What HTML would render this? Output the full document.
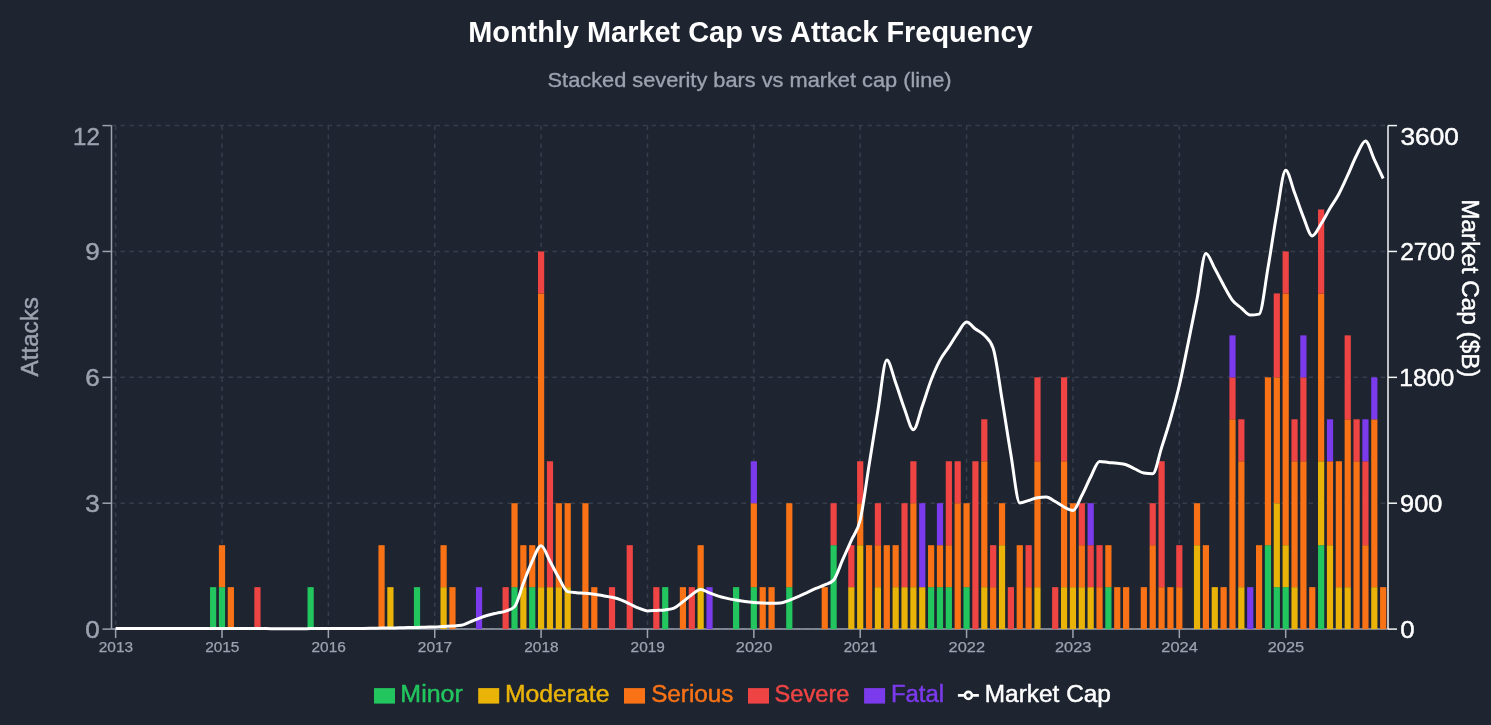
<!DOCTYPE html>
<html lang="en"><head><meta charset="utf-8"><title>Monthly Market Cap vs Attack Frequency</title>
<style>html,body{margin:0;padding:0;background:#1e2531;}body{width:1491px;height:725px;overflow:hidden;font-family:"Liberation Sans",sans-serif;}svg{display:block;will-change:transform;}text{font-family:"Liberation Sans",sans-serif;}</style></head><body>
<svg width="1491" height="725" viewBox="0 0 1491 725">
<rect width="1491" height="725" fill="#1e2531"/>
<g stroke="#363d4b" stroke-width="1.5" stroke-dasharray="4.5 4.5" fill="none">
<line x1="111.5" x2="1388.0" y1="629.10" y2="629.10"/>
<line x1="111.5" x2="1388.0" y1="503.22" y2="503.22"/>
<line x1="111.5" x2="1388.0" y1="377.34" y2="377.34"/>
<line x1="111.5" x2="1388.0" y1="251.46" y2="251.46"/>
<line x1="111.5" x2="1388.0" y1="125.58" y2="125.58"/>
<line x1="115.63" x2="115.63" y1="125.6" y2="629.1"/>
<line x1="222.00" x2="222.00" y1="125.6" y2="629.1"/>
<line x1="328.37" x2="328.37" y1="125.6" y2="629.1"/>
<line x1="434.73" x2="434.73" y1="125.6" y2="629.1"/>
<line x1="541.10" x2="541.10" y1="125.6" y2="629.1"/>
<line x1="647.47" x2="647.47" y1="125.6" y2="629.1"/>
<line x1="753.84" x2="753.84" y1="125.6" y2="629.1"/>
<line x1="860.21" x2="860.21" y1="125.6" y2="629.1"/>
<line x1="966.57" x2="966.57" y1="125.6" y2="629.1"/>
<line x1="1072.94" x2="1072.94" y1="125.6" y2="629.1"/>
<line x1="1179.31" x2="1179.31" y1="125.6" y2="629.1"/>
<line x1="1285.68" x2="1285.68" y1="125.6" y2="629.1"/>
</g>
<g stroke="#9ca3af" stroke-width="1.5" fill="none">
<line x1="111.5" x2="1388.0" y1="629.1" y2="629.1"/>
<line x1="115.63" x2="115.63" y1="629.1" y2="638.1"/>
<line x1="222.00" x2="222.00" y1="629.1" y2="638.1"/>
<line x1="328.37" x2="328.37" y1="629.1" y2="638.1"/>
<line x1="434.73" x2="434.73" y1="629.1" y2="638.1"/>
<line x1="541.10" x2="541.10" y1="629.1" y2="638.1"/>
<line x1="647.47" x2="647.47" y1="629.1" y2="638.1"/>
<line x1="753.84" x2="753.84" y1="629.1" y2="638.1"/>
<line x1="860.21" x2="860.21" y1="629.1" y2="638.1"/>
<line x1="966.57" x2="966.57" y1="629.1" y2="638.1"/>
<line x1="1072.94" x2="1072.94" y1="629.1" y2="638.1"/>
<line x1="1179.31" x2="1179.31" y1="629.1" y2="638.1"/>
<line x1="1285.68" x2="1285.68" y1="629.1" y2="638.1"/>
<line x1="111.5" x2="111.5" y1="125.6" y2="629.1"/>
<line x1="102.5" x2="111.5" y1="629.10" y2="629.10"/>
<line x1="102.5" x2="111.5" y1="503.22" y2="503.22"/>
<line x1="102.5" x2="111.5" y1="377.34" y2="377.34"/>
<line x1="102.5" x2="111.5" y1="251.46" y2="251.46"/>
<line x1="102.5" x2="111.5" y1="125.58" y2="125.58"/>
</g>
<g stroke="#f3f4f6" stroke-width="1.5" fill="none">
<line x1="1388.0" x2="1388.0" y1="125.6" y2="629.1"/>
<line x1="1388.0" x2="1397.0" y1="629.10" y2="629.10"/>
<line x1="1388.0" x2="1397.0" y1="503.22" y2="503.22"/>
<line x1="1388.0" x2="1397.0" y1="377.34" y2="377.34"/>
<line x1="1388.0" x2="1397.0" y1="251.46" y2="251.46"/>
<line x1="1388.0" x2="1397.0" y1="125.58" y2="125.58"/>
</g>
<g shape-rendering="auto">
<rect x="210.03" y="587.14" width="6.2" height="41.96" fill="#22c55e"/>
<rect x="218.90" y="587.14" width="6.2" height="41.96" fill="#22c55e"/>
<rect x="218.90" y="545.18" width="6.2" height="41.96" fill="#f97316"/>
<rect x="227.76" y="587.14" width="6.2" height="41.96" fill="#f97316"/>
<rect x="254.35" y="587.14" width="6.2" height="41.96" fill="#ef4444"/>
<rect x="307.54" y="587.14" width="6.2" height="41.96" fill="#22c55e"/>
<rect x="378.45" y="545.18" width="6.2" height="83.92" fill="#f97316"/>
<rect x="387.31" y="587.14" width="6.2" height="41.96" fill="#eab308"/>
<rect x="413.91" y="587.14" width="6.2" height="41.96" fill="#22c55e"/>
<rect x="440.50" y="587.14" width="6.2" height="41.96" fill="#eab308"/>
<rect x="440.50" y="545.18" width="6.2" height="41.96" fill="#f97316"/>
<rect x="449.36" y="587.14" width="6.2" height="41.96" fill="#f97316"/>
<rect x="475.95" y="587.14" width="6.2" height="41.96" fill="#7c3aed"/>
<rect x="502.55" y="587.14" width="6.2" height="41.96" fill="#ef4444"/>
<rect x="511.41" y="587.14" width="6.2" height="41.96" fill="#22c55e"/>
<rect x="511.41" y="503.22" width="6.2" height="83.92" fill="#f97316"/>
<rect x="520.27" y="587.14" width="6.2" height="41.96" fill="#eab308"/>
<rect x="520.27" y="545.18" width="6.2" height="41.96" fill="#f97316"/>
<rect x="529.14" y="587.14" width="6.2" height="41.96" fill="#22c55e"/>
<rect x="529.14" y="545.18" width="6.2" height="41.96" fill="#f97316"/>
<rect x="538.00" y="587.14" width="6.2" height="41.96" fill="#eab308"/>
<rect x="538.00" y="293.42" width="6.2" height="293.72" fill="#f97316"/>
<rect x="538.00" y="251.46" width="6.2" height="41.96" fill="#ef4444"/>
<rect x="546.87" y="587.14" width="6.2" height="41.96" fill="#eab308"/>
<rect x="546.87" y="461.26" width="6.2" height="125.88" fill="#ef4444"/>
<rect x="555.73" y="587.14" width="6.2" height="41.96" fill="#eab308"/>
<rect x="555.73" y="503.22" width="6.2" height="83.92" fill="#f97316"/>
<rect x="564.59" y="587.14" width="6.2" height="41.96" fill="#eab308"/>
<rect x="564.59" y="503.22" width="6.2" height="83.92" fill="#f97316"/>
<rect x="582.32" y="503.22" width="6.2" height="125.88" fill="#f97316"/>
<rect x="591.19" y="587.14" width="6.2" height="41.96" fill="#f97316"/>
<rect x="608.91" y="587.14" width="6.2" height="41.96" fill="#ef4444"/>
<rect x="626.64" y="545.18" width="6.2" height="83.92" fill="#ef4444"/>
<rect x="653.23" y="587.14" width="6.2" height="41.96" fill="#ef4444"/>
<rect x="662.10" y="587.14" width="6.2" height="41.96" fill="#22c55e"/>
<rect x="679.83" y="587.14" width="6.2" height="41.96" fill="#f97316"/>
<rect x="688.69" y="587.14" width="6.2" height="41.96" fill="#ef4444"/>
<rect x="697.55" y="587.14" width="6.2" height="41.96" fill="#eab308"/>
<rect x="697.55" y="545.18" width="6.2" height="41.96" fill="#f97316"/>
<rect x="706.42" y="587.14" width="6.2" height="41.96" fill="#7c3aed"/>
<rect x="733.01" y="587.14" width="6.2" height="41.96" fill="#22c55e"/>
<rect x="750.74" y="587.14" width="6.2" height="41.96" fill="#22c55e"/>
<rect x="750.74" y="503.22" width="6.2" height="83.92" fill="#f97316"/>
<rect x="750.74" y="461.26" width="6.2" height="41.96" fill="#7c3aed"/>
<rect x="759.60" y="587.14" width="6.2" height="41.96" fill="#f97316"/>
<rect x="768.47" y="587.14" width="6.2" height="41.96" fill="#f97316"/>
<rect x="786.19" y="587.14" width="6.2" height="41.96" fill="#22c55e"/>
<rect x="786.19" y="503.22" width="6.2" height="83.92" fill="#f97316"/>
<rect x="821.65" y="587.14" width="6.2" height="41.96" fill="#f97316"/>
<rect x="830.51" y="545.18" width="6.2" height="83.92" fill="#22c55e"/>
<rect x="830.51" y="503.22" width="6.2" height="41.96" fill="#ef4444"/>
<rect x="848.24" y="587.14" width="6.2" height="41.96" fill="#eab308"/>
<rect x="848.24" y="545.18" width="6.2" height="41.96" fill="#ef4444"/>
<rect x="857.11" y="545.18" width="6.2" height="83.92" fill="#eab308"/>
<rect x="857.11" y="503.22" width="6.2" height="41.96" fill="#f97316"/>
<rect x="857.11" y="461.26" width="6.2" height="41.96" fill="#ef4444"/>
<rect x="865.97" y="545.18" width="6.2" height="83.92" fill="#f97316"/>
<rect x="874.83" y="587.14" width="6.2" height="41.96" fill="#eab308"/>
<rect x="874.83" y="545.18" width="6.2" height="41.96" fill="#f97316"/>
<rect x="874.83" y="503.22" width="6.2" height="41.96" fill="#ef4444"/>
<rect x="883.70" y="545.18" width="6.2" height="83.92" fill="#f97316"/>
<rect x="892.56" y="587.14" width="6.2" height="41.96" fill="#eab308"/>
<rect x="892.56" y="545.18" width="6.2" height="41.96" fill="#f97316"/>
<rect x="901.43" y="587.14" width="6.2" height="41.96" fill="#eab308"/>
<rect x="901.43" y="503.22" width="6.2" height="83.92" fill="#ef4444"/>
<rect x="910.29" y="587.14" width="6.2" height="41.96" fill="#eab308"/>
<rect x="910.29" y="503.22" width="6.2" height="83.92" fill="#f97316"/>
<rect x="910.29" y="461.26" width="6.2" height="41.96" fill="#ef4444"/>
<rect x="919.15" y="587.14" width="6.2" height="41.96" fill="#eab308"/>
<rect x="919.15" y="503.22" width="6.2" height="83.92" fill="#7c3aed"/>
<rect x="928.02" y="587.14" width="6.2" height="41.96" fill="#22c55e"/>
<rect x="928.02" y="545.18" width="6.2" height="41.96" fill="#f97316"/>
<rect x="936.88" y="587.14" width="6.2" height="41.96" fill="#22c55e"/>
<rect x="936.88" y="545.18" width="6.2" height="41.96" fill="#f97316"/>
<rect x="936.88" y="503.22" width="6.2" height="41.96" fill="#7c3aed"/>
<rect x="945.75" y="587.14" width="6.2" height="41.96" fill="#22c55e"/>
<rect x="945.75" y="545.18" width="6.2" height="41.96" fill="#f97316"/>
<rect x="945.75" y="461.26" width="6.2" height="83.92" fill="#ef4444"/>
<rect x="954.61" y="503.22" width="6.2" height="125.88" fill="#f97316"/>
<rect x="954.61" y="461.26" width="6.2" height="41.96" fill="#ef4444"/>
<rect x="963.47" y="587.14" width="6.2" height="41.96" fill="#22c55e"/>
<rect x="963.47" y="503.22" width="6.2" height="83.92" fill="#f97316"/>
<rect x="972.34" y="461.26" width="6.2" height="167.84" fill="#ef4444"/>
<rect x="981.20" y="587.14" width="6.2" height="41.96" fill="#eab308"/>
<rect x="981.20" y="461.26" width="6.2" height="125.88" fill="#f97316"/>
<rect x="981.20" y="419.30" width="6.2" height="41.96" fill="#ef4444"/>
<rect x="990.07" y="587.14" width="6.2" height="41.96" fill="#f97316"/>
<rect x="990.07" y="545.18" width="6.2" height="41.96" fill="#ef4444"/>
<rect x="998.93" y="545.18" width="6.2" height="83.92" fill="#eab308"/>
<rect x="998.93" y="503.22" width="6.2" height="41.96" fill="#f97316"/>
<rect x="1007.79" y="587.14" width="6.2" height="41.96" fill="#ef4444"/>
<rect x="1016.66" y="545.18" width="6.2" height="83.92" fill="#f97316"/>
<rect x="1025.52" y="587.14" width="6.2" height="41.96" fill="#f97316"/>
<rect x="1025.52" y="545.18" width="6.2" height="41.96" fill="#ef4444"/>
<rect x="1034.39" y="587.14" width="6.2" height="41.96" fill="#eab308"/>
<rect x="1034.39" y="461.26" width="6.2" height="125.88" fill="#f97316"/>
<rect x="1034.39" y="377.34" width="6.2" height="83.92" fill="#ef4444"/>
<rect x="1052.11" y="587.14" width="6.2" height="41.96" fill="#ef4444"/>
<rect x="1060.98" y="587.14" width="6.2" height="41.96" fill="#eab308"/>
<rect x="1060.98" y="461.26" width="6.2" height="125.88" fill="#f97316"/>
<rect x="1060.98" y="377.34" width="6.2" height="83.92" fill="#ef4444"/>
<rect x="1069.84" y="587.14" width="6.2" height="41.96" fill="#eab308"/>
<rect x="1069.84" y="503.22" width="6.2" height="83.92" fill="#f97316"/>
<rect x="1078.71" y="587.14" width="6.2" height="41.96" fill="#eab308"/>
<rect x="1078.71" y="545.18" width="6.2" height="41.96" fill="#f97316"/>
<rect x="1078.71" y="503.22" width="6.2" height="41.96" fill="#ef4444"/>
<rect x="1087.57" y="587.14" width="6.2" height="41.96" fill="#eab308"/>
<rect x="1087.57" y="545.18" width="6.2" height="41.96" fill="#ef4444"/>
<rect x="1087.57" y="503.22" width="6.2" height="41.96" fill="#7c3aed"/>
<rect x="1096.43" y="587.14" width="6.2" height="41.96" fill="#f97316"/>
<rect x="1096.43" y="545.18" width="6.2" height="41.96" fill="#ef4444"/>
<rect x="1105.30" y="587.14" width="6.2" height="41.96" fill="#22c55e"/>
<rect x="1105.30" y="545.18" width="6.2" height="41.96" fill="#f97316"/>
<rect x="1114.16" y="587.14" width="6.2" height="41.96" fill="#f97316"/>
<rect x="1123.03" y="587.14" width="6.2" height="41.96" fill="#f97316"/>
<rect x="1140.75" y="587.14" width="6.2" height="41.96" fill="#f97316"/>
<rect x="1149.62" y="545.18" width="6.2" height="83.92" fill="#f97316"/>
<rect x="1149.62" y="503.22" width="6.2" height="41.96" fill="#ef4444"/>
<rect x="1158.48" y="587.14" width="6.2" height="41.96" fill="#f97316"/>
<rect x="1158.48" y="461.26" width="6.2" height="125.88" fill="#ef4444"/>
<rect x="1167.35" y="587.14" width="6.2" height="41.96" fill="#f97316"/>
<rect x="1176.21" y="587.14" width="6.2" height="41.96" fill="#f97316"/>
<rect x="1176.21" y="545.18" width="6.2" height="41.96" fill="#ef4444"/>
<rect x="1193.94" y="545.18" width="6.2" height="83.92" fill="#eab308"/>
<rect x="1193.94" y="503.22" width="6.2" height="41.96" fill="#f97316"/>
<rect x="1202.80" y="545.18" width="6.2" height="83.92" fill="#f97316"/>
<rect x="1211.67" y="587.14" width="6.2" height="41.96" fill="#eab308"/>
<rect x="1220.53" y="587.14" width="6.2" height="41.96" fill="#f97316"/>
<rect x="1229.39" y="419.30" width="6.2" height="209.80" fill="#f97316"/>
<rect x="1229.39" y="377.34" width="6.2" height="41.96" fill="#ef4444"/>
<rect x="1229.39" y="335.38" width="6.2" height="41.96" fill="#7c3aed"/>
<rect x="1238.26" y="587.14" width="6.2" height="41.96" fill="#eab308"/>
<rect x="1238.26" y="461.26" width="6.2" height="125.88" fill="#f97316"/>
<rect x="1238.26" y="419.30" width="6.2" height="41.96" fill="#ef4444"/>
<rect x="1247.12" y="587.14" width="6.2" height="41.96" fill="#7c3aed"/>
<rect x="1255.99" y="545.18" width="6.2" height="83.92" fill="#f97316"/>
<rect x="1264.85" y="545.18" width="6.2" height="83.92" fill="#22c55e"/>
<rect x="1264.85" y="377.34" width="6.2" height="167.84" fill="#f97316"/>
<rect x="1273.71" y="587.14" width="6.2" height="41.96" fill="#22c55e"/>
<rect x="1273.71" y="503.22" width="6.2" height="83.92" fill="#eab308"/>
<rect x="1273.71" y="377.34" width="6.2" height="125.88" fill="#f97316"/>
<rect x="1273.71" y="293.42" width="6.2" height="83.92" fill="#ef4444"/>
<rect x="1282.58" y="587.14" width="6.2" height="41.96" fill="#22c55e"/>
<rect x="1282.58" y="545.18" width="6.2" height="41.96" fill="#eab308"/>
<rect x="1282.58" y="293.42" width="6.2" height="251.76" fill="#f97316"/>
<rect x="1282.58" y="251.46" width="6.2" height="41.96" fill="#ef4444"/>
<rect x="1291.44" y="587.14" width="6.2" height="41.96" fill="#eab308"/>
<rect x="1291.44" y="461.26" width="6.2" height="125.88" fill="#f97316"/>
<rect x="1291.44" y="419.30" width="6.2" height="41.96" fill="#ef4444"/>
<rect x="1300.31" y="461.26" width="6.2" height="167.84" fill="#f97316"/>
<rect x="1300.31" y="377.34" width="6.2" height="83.92" fill="#ef4444"/>
<rect x="1300.31" y="335.38" width="6.2" height="41.96" fill="#7c3aed"/>
<rect x="1309.17" y="587.14" width="6.2" height="41.96" fill="#f97316"/>
<rect x="1318.03" y="545.18" width="6.2" height="83.92" fill="#22c55e"/>
<rect x="1318.03" y="461.26" width="6.2" height="83.92" fill="#eab308"/>
<rect x="1318.03" y="293.42" width="6.2" height="167.84" fill="#f97316"/>
<rect x="1318.03" y="209.50" width="6.2" height="83.92" fill="#ef4444"/>
<rect x="1326.90" y="545.18" width="6.2" height="83.92" fill="#eab308"/>
<rect x="1326.90" y="461.26" width="6.2" height="83.92" fill="#f97316"/>
<rect x="1326.90" y="419.30" width="6.2" height="41.96" fill="#7c3aed"/>
<rect x="1335.76" y="587.14" width="6.2" height="41.96" fill="#eab308"/>
<rect x="1335.76" y="461.26" width="6.2" height="125.88" fill="#f97316"/>
<rect x="1344.63" y="587.14" width="6.2" height="41.96" fill="#eab308"/>
<rect x="1344.63" y="419.30" width="6.2" height="167.84" fill="#f97316"/>
<rect x="1344.63" y="335.38" width="6.2" height="83.92" fill="#ef4444"/>
<rect x="1353.49" y="461.26" width="6.2" height="167.84" fill="#f97316"/>
<rect x="1353.49" y="419.30" width="6.2" height="41.96" fill="#ef4444"/>
<rect x="1362.35" y="545.18" width="6.2" height="83.92" fill="#f97316"/>
<rect x="1362.35" y="461.26" width="6.2" height="83.92" fill="#ef4444"/>
<rect x="1362.35" y="419.30" width="6.2" height="41.96" fill="#7c3aed"/>
<rect x="1371.22" y="587.14" width="6.2" height="41.96" fill="#eab308"/>
<rect x="1371.22" y="419.30" width="6.2" height="167.84" fill="#f97316"/>
<rect x="1371.22" y="377.34" width="6.2" height="41.96" fill="#7c3aed"/>
<rect x="1380.08" y="587.14" width="6.2" height="41.96" fill="#f97316"/>
</g>
<path d="M115.63,628.40C118.58,628.40,121.54,628.40,124.49,628.40C127.45,628.40,130.40,628.40,133.36,628.40C136.31,628.40,139.27,628.40,142.22,628.40C145.18,628.40,148.13,628.40,151.09,628.40C154.04,628.40,157.00,628.40,159.95,628.40C162.90,628.40,165.86,628.40,168.81,628.40C171.77,628.40,174.72,628.40,177.68,628.40C180.63,628.40,183.59,628.40,186.54,628.40C189.50,628.40,192.45,628.40,195.41,628.40C198.36,628.40,201.32,628.40,204.27,628.40C207.22,628.40,210.18,628.42,213.13,628.43C216.09,628.44,219.04,628.45,222.00,628.46C224.95,628.47,227.91,628.48,230.86,628.49C233.82,628.50,236.77,628.51,239.73,628.52C242.68,628.53,245.64,628.54,248.59,628.55C251.54,628.56,254.50,628.57,257.45,628.58C260.41,628.59,263.36,628.60,266.32,628.61C269.27,628.62,272.23,628.63,275.18,628.64C278.14,628.65,281.09,628.66,284.05,628.67C287.00,628.68,289.96,628.70,292.91,628.70C295.86,628.70,298.82,628.68,301.77,628.66C304.73,628.65,307.68,628.64,310.64,628.62C313.59,628.61,316.55,628.60,319.50,628.59C322.46,628.57,325.41,628.56,328.37,628.55C331.32,628.54,334.28,628.53,337.23,628.51C340.18,628.50,343.14,628.49,346.09,628.48C349.05,628.46,352.00,628.45,354.96,628.44C357.91,628.42,360.87,628.42,363.82,628.40C366.78,628.38,369.73,628.30,372.69,628.25C375.64,628.20,378.60,628.15,381.55,628.10C384.50,628.05,387.46,628.00,390.41,627.95C393.37,627.90,396.32,627.86,399.28,627.80C402.23,627.74,405.19,627.67,408.14,627.60C411.10,627.53,414.05,627.48,417.01,627.40C419.96,627.33,422.92,627.23,425.87,627.15C428.82,627.07,431.78,627.02,434.73,626.90C437.69,626.77,440.64,626.55,443.60,626.40C446.55,626.25,449.51,626.18,452.46,626.00C455.42,625.82,458.37,625.77,461.33,625.30C464.28,624.83,467.24,623.07,470.19,621.90C473.14,620.73,476.10,619.40,479.05,618.30C482.01,617.20,484.96,616.17,487.92,615.30C490.87,614.43,493.83,613.80,496.78,613.10C499.74,612.40,502.69,612.17,505.65,611.10C508.60,610.03,511.56,609.63,514.51,606.70C517.46,603.77,520.42,590.88,523.37,583.30C526.33,575.72,529.28,567.45,532.24,561.20C535.19,554.95,538.15,545.80,541.10,545.80C544.06,545.80,547.01,555.87,549.97,561.20C552.92,566.53,555.88,572.73,558.83,577.80C561.78,582.87,564.74,590.87,567.69,591.60C570.65,592.33,573.60,592.42,576.56,592.70C579.51,592.98,582.47,593.05,585.42,593.30C588.38,593.55,591.33,593.80,594.29,594.20C597.24,594.60,600.20,595.18,603.15,595.70C606.10,596.22,609.06,596.62,612.01,597.30C614.97,597.98,617.92,598.68,620.88,599.80C623.83,600.92,626.79,602.62,629.74,604.00C632.70,605.38,635.65,606.95,638.61,608.10C641.56,609.25,644.52,610.90,647.47,610.90C650.42,610.90,653.38,610.57,656.33,610.40C659.29,610.23,662.24,610.23,665.20,609.90C668.15,609.57,671.11,609.30,674.06,608.10C677.02,606.90,679.97,603.83,682.93,601.60C685.88,599.37,688.84,596.72,691.79,594.70C694.74,592.68,697.70,589.50,700.65,589.50C703.61,589.50,706.56,591.80,709.52,592.90C712.47,594.00,715.43,595.18,718.38,596.10C721.34,597.02,724.29,597.73,727.25,598.40C730.20,599.07,733.16,599.57,736.11,600.10C739.06,600.63,742.02,601.18,744.97,601.60C747.93,602.02,750.88,602.35,753.84,602.60C756.79,602.85,759.75,602.98,762.70,603.10C765.66,603.22,768.61,603.30,771.57,603.30C774.52,603.30,777.48,603.23,780.43,603.10C783.38,602.97,786.34,601.37,789.29,600.30C792.25,599.23,795.20,597.98,798.16,596.70C801.11,595.42,804.07,593.98,807.02,592.60C809.98,591.22,812.93,589.70,815.89,588.40C818.84,587.10,821.80,586.18,824.75,584.80C827.70,583.42,830.66,583.23,833.61,580.10C836.57,576.97,839.52,566.83,842.48,560.20C845.43,553.57,848.39,547.00,851.34,540.30C854.30,533.60,857.25,532.52,860.21,520.00C863.16,507.48,866.12,483.48,869.07,465.20C872.02,446.92,874.98,427.82,877.93,410.30C880.89,392.78,883.84,360.10,886.80,360.10C889.75,360.10,892.71,374.65,895.66,382.80C898.62,390.95,901.57,401.18,904.53,409.00C907.48,416.82,910.44,429.70,913.39,429.70C916.34,429.70,919.30,414.48,922.25,406.20C925.21,397.92,928.16,387.68,931.12,380.00C934.07,372.32,937.03,365.62,939.98,360.10C942.94,354.58,945.89,351.40,948.85,346.90C951.80,342.40,954.76,337.23,957.71,333.10C960.66,328.97,963.62,322.10,966.57,322.10C969.53,322.10,972.48,326.80,975.44,329.00C978.39,331.20,981.35,332.08,984.30,335.30C987.26,338.52,990.21,339.63,993.17,348.30C996.12,356.97,999.08,381.60,1002.03,399.30C1004.98,417.00,1007.94,437.23,1010.89,454.50C1013.85,471.77,1016.80,502.90,1019.76,502.90C1022.71,502.90,1025.67,501.35,1028.62,500.50C1031.58,499.65,1034.53,498.27,1037.49,497.80C1040.44,497.33,1043.40,497.10,1046.35,497.10C1049.30,497.10,1052.26,499.85,1055.21,501.50C1058.17,503.15,1061.12,505.48,1064.08,507.00C1067.03,508.52,1069.99,510.60,1072.94,510.60C1075.90,510.60,1078.85,501.10,1081.81,495.50C1084.76,489.90,1087.72,482.68,1090.67,477.00C1093.62,471.32,1096.58,461.40,1099.53,461.40C1102.49,461.40,1105.44,462.08,1108.40,462.40C1111.35,462.72,1114.31,462.90,1117.26,463.30C1120.22,463.70,1123.17,463.85,1126.13,464.80C1129.08,465.75,1132.04,467.63,1134.99,469.00C1137.94,470.37,1140.90,472.47,1143.85,473.00C1146.81,473.53,1149.76,473.80,1152.72,473.80C1155.67,473.80,1158.63,456.73,1161.58,447.60C1164.54,438.47,1167.49,429.35,1170.45,419.00C1173.40,408.65,1176.36,398.15,1179.31,385.50C1182.26,372.85,1185.22,357.52,1188.17,343.10C1191.13,328.68,1194.08,313.95,1197.04,299.00C1199.99,284.05,1202.95,253.40,1205.90,253.40C1208.86,253.40,1211.81,263.30,1214.77,268.60C1217.72,273.90,1220.68,279.92,1223.63,285.20C1226.58,290.48,1229.54,296.48,1232.49,300.30C1235.45,304.12,1238.40,305.65,1241.36,308.10C1244.31,310.55,1247.27,315.00,1250.22,315.00C1253.18,315.00,1256.13,314.70,1259.09,314.10C1262.04,313.50,1265.00,284.77,1267.95,268.00C1270.90,251.23,1273.86,229.78,1276.81,213.50C1279.77,197.22,1282.72,170.30,1285.68,170.30C1288.63,170.30,1291.59,185.00,1294.54,192.80C1297.50,200.60,1300.45,209.92,1303.41,217.10C1306.36,224.28,1309.32,235.90,1312.27,235.90C1315.22,235.90,1318.18,228.40,1321.13,223.80C1324.09,219.20,1327.04,213.27,1330.00,208.30C1332.95,203.33,1335.91,199.52,1338.86,194.00C1341.82,188.48,1344.77,181.65,1347.73,175.20C1350.68,168.75,1353.64,161.00,1356.59,155.30C1359.54,149.60,1362.50,141.00,1365.45,141.00C1368.41,141.00,1371.36,153.45,1374.32,159.70C1377.27,165.95,1380.23,172.22,1383.18,178.50" fill="none" stroke="#ffffff" stroke-width="3" stroke-linejoin="round" stroke-linecap="butt"/>
<text x="750.4" y="42.0" font-size="28.6" fill="#ffffff" font-weight="700" text-anchor="middle" textLength="564.5" lengthAdjust="spacingAndGlyphs">Monthly Market Cap vs Attack Frequency</text>
<text x="749.6" y="86.9" font-size="20.3" fill="#9ca3af" stroke="#9ca3af" stroke-width="0.35" stroke-linejoin="round" text-anchor="middle" textLength="404" lengthAdjust="spacingAndGlyphs">Stacked severity bars vs market cap (line)</text>
<text x="99.8" y="145.1" font-size="24" fill="#9ca3af" stroke="#9ca3af" stroke-width="0.45" stroke-linejoin="round" text-anchor="end">12</text>
<text x="99.8" y="260.1" font-size="24" fill="#9ca3af" stroke="#9ca3af" stroke-width="0.45" stroke-linejoin="round" text-anchor="end" textLength="14.5" lengthAdjust="spacingAndGlyphs">9</text>
<text x="99.8" y="385.95" font-size="24" fill="#9ca3af" stroke="#9ca3af" stroke-width="0.45" stroke-linejoin="round" text-anchor="end" textLength="14.5" lengthAdjust="spacingAndGlyphs">6</text>
<text x="99.8" y="511.8" font-size="24" fill="#9ca3af" stroke="#9ca3af" stroke-width="0.45" stroke-linejoin="round" text-anchor="end" textLength="14.5" lengthAdjust="spacingAndGlyphs">3</text>
<text x="99.8" y="638.2" font-size="24" fill="#9ca3af" stroke="#9ca3af" stroke-width="0.45" stroke-linejoin="round" text-anchor="end" textLength="14.5" lengthAdjust="spacingAndGlyphs">0</text>
<text x="1400.5" y="144.6" font-size="24" fill="#ffffff" stroke="#ffffff" stroke-width="0.45" stroke-linejoin="round" text-anchor="start" textLength="58.3" lengthAdjust="spacingAndGlyphs">3600</text>
<text x="1400.2" y="260.1" font-size="24" fill="#ffffff" stroke="#ffffff" stroke-width="0.45" stroke-linejoin="round" text-anchor="start" textLength="54.7" lengthAdjust="spacingAndGlyphs">2700</text>
<text x="1399.3" y="386.1" font-size="24" fill="#ffffff" stroke="#ffffff" stroke-width="0.45" stroke-linejoin="round" text-anchor="start" textLength="55" lengthAdjust="spacingAndGlyphs">1800</text>
<text x="1400.1" y="512.05" font-size="24" fill="#ffffff" stroke="#ffffff" stroke-width="0.45" stroke-linejoin="round" text-anchor="start" textLength="42.2" lengthAdjust="spacingAndGlyphs">900</text>
<text x="1400.3" y="638.2" font-size="24" fill="#ffffff" stroke="#ffffff" stroke-width="0.45" stroke-linejoin="round" text-anchor="start" textLength="14.4" lengthAdjust="spacingAndGlyphs">0</text>
<text x="115.93" y="651.9" font-size="14.5" fill="#9ca3af" stroke="#9ca3af" stroke-width="0.25" stroke-linejoin="round" text-anchor="middle" textLength="34.3" lengthAdjust="spacingAndGlyphs">2013</text>
<text x="222.3" y="651.9" font-size="14.5" fill="#9ca3af" stroke="#9ca3af" stroke-width="0.25" stroke-linejoin="round" text-anchor="middle" textLength="34.3" lengthAdjust="spacingAndGlyphs">2015</text>
<text x="328.67" y="651.9" font-size="14.5" fill="#9ca3af" stroke="#9ca3af" stroke-width="0.25" stroke-linejoin="round" text-anchor="middle" textLength="34.3" lengthAdjust="spacingAndGlyphs">2016</text>
<text x="435.03" y="651.9" font-size="14.5" fill="#9ca3af" stroke="#9ca3af" stroke-width="0.25" stroke-linejoin="round" text-anchor="middle" textLength="34.3" lengthAdjust="spacingAndGlyphs">2017</text>
<text x="541.4" y="651.9" font-size="14.5" fill="#9ca3af" stroke="#9ca3af" stroke-width="0.25" stroke-linejoin="round" text-anchor="middle" textLength="34.3" lengthAdjust="spacingAndGlyphs">2018</text>
<text x="647.77" y="651.9" font-size="14.5" fill="#9ca3af" stroke="#9ca3af" stroke-width="0.25" stroke-linejoin="round" text-anchor="middle" textLength="34.3" lengthAdjust="spacingAndGlyphs">2019</text>
<text x="754.14" y="651.9" font-size="14.5" fill="#9ca3af" stroke="#9ca3af" stroke-width="0.25" stroke-linejoin="round" text-anchor="middle" textLength="36.5" lengthAdjust="spacingAndGlyphs">2020</text>
<text x="860.51" y="651.9" font-size="14.5" fill="#9ca3af" stroke="#9ca3af" stroke-width="0.25" stroke-linejoin="round" text-anchor="middle" textLength="33.6" lengthAdjust="spacingAndGlyphs">2021</text>
<text x="966.87" y="651.9" font-size="14.5" fill="#9ca3af" stroke="#9ca3af" stroke-width="0.25" stroke-linejoin="round" text-anchor="middle" textLength="36.5" lengthAdjust="spacingAndGlyphs">2022</text>
<text x="1073.24" y="651.9" font-size="14.5" fill="#9ca3af" stroke="#9ca3af" stroke-width="0.25" stroke-linejoin="round" text-anchor="middle" textLength="36.5" lengthAdjust="spacingAndGlyphs">2023</text>
<text x="1179.61" y="651.9" font-size="14.5" fill="#9ca3af" stroke="#9ca3af" stroke-width="0.25" stroke-linejoin="round" text-anchor="middle" textLength="36.5" lengthAdjust="spacingAndGlyphs">2024</text>
<text x="1285.98" y="651.9" font-size="14.5" fill="#9ca3af" stroke="#9ca3af" stroke-width="0.25" stroke-linejoin="round" text-anchor="middle" textLength="36.5" lengthAdjust="spacingAndGlyphs">2025</text>
<text x="0" y="0" font-size="23" fill="#9ca3af" stroke="#9ca3af" stroke-width="0.45" stroke-linejoin="round" text-anchor="middle" textLength="79.3" lengthAdjust="spacingAndGlyphs" transform="translate(37.5,336.8) rotate(-90)">Attacks</text>
<text x="0" y="0" font-size="23" fill="#ffffff" stroke="#ffffff" stroke-width="0.45" stroke-linejoin="round" text-anchor="middle" textLength="178.2" lengthAdjust="spacingAndGlyphs" transform="translate(1462.0,288.35) rotate(90)">Market Cap ($B)</text>
<text x="400.35" y="701.8" font-size="23" fill="#22c55e" stroke="#22c55e" stroke-width="0.45" stroke-linejoin="round" text-anchor="start" textLength="62.4" lengthAdjust="spacingAndGlyphs">Minor</text>
<text x="504.9" y="701.8" font-size="23" fill="#eab308" stroke="#eab308" stroke-width="0.45" stroke-linejoin="round" text-anchor="start" textLength="104.6" lengthAdjust="spacingAndGlyphs">Moderate</text>
<text x="651.2" y="701.8" font-size="23" fill="#f97316" stroke="#f97316" stroke-width="0.45" stroke-linejoin="round" text-anchor="start" textLength="82.2" lengthAdjust="spacingAndGlyphs">Serious</text>
<text x="774.6" y="701.8" font-size="23" fill="#ef4444" stroke="#ef4444" stroke-width="0.45" stroke-linejoin="round" text-anchor="start" textLength="74.8" lengthAdjust="spacingAndGlyphs">Severe</text>
<text x="890.95" y="701.8" font-size="23" fill="#7c3aed" stroke="#7c3aed" stroke-width="0.45" stroke-linejoin="round" text-anchor="start" textLength="53.2" lengthAdjust="spacingAndGlyphs">Fatal</text>
<text x="984.8" y="701.8" font-size="23" fill="#ffffff" stroke="#ffffff" stroke-width="0.45" stroke-linejoin="round" text-anchor="start" textLength="126.1" lengthAdjust="spacingAndGlyphs">Market Cap</text>
<rect x="374.0" y="688.1" width="21" height="15.5" fill="#22c55e"/>
<rect x="478.2" y="688.1" width="21" height="15.5" fill="#eab308"/>
<rect x="624.0" y="688.1" width="21" height="15.5" fill="#f97316"/>
<rect x="748.0" y="688.1" width="21" height="15.5" fill="#ef4444"/>
<rect x="864.1" y="688.1" width="21" height="15.5" fill="#7c3aed"/>
<g transform="translate(957.9,684.9) scale(0.65625)"><path d="M0,16h10.6667A5.3333,5.3333,0,1,1,21.3333,16H32M21.3333,16A5.3333,5.3333,0,1,1,10.6667,16" fill="none" stroke="#ffffff" stroke-width="4"/></g>
</svg></body></html>
